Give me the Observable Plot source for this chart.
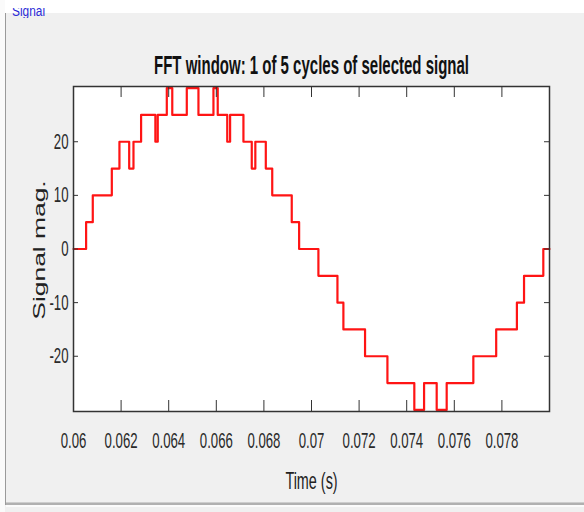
<!DOCTYPE html>
<html><head><meta charset="utf-8">
<script src="https://cdn.jsdelivr.net/npm/d3@7"></script>
<script src="https://cdn.jsdelivr.net/npm/@observablehq/plot@0.6"></script>
<style>
html,body{margin:0;padding:0;}
body{width:584px;height:512px;background:#f0f0f0;position:relative;overflow:hidden;font-family:"Liberation Sans",Arial,sans-serif;}
#topstrip{position:absolute;left:0;top:0;width:584px;height:13px;background:#fff;}
#leftstrip{position:absolute;left:0;top:0;width:5px;height:512px;background:#fafafa;}
#leftline{position:absolute;left:5px;top:13px;width:1px;height:492px;background:#9a9a9a;}
#botline{position:absolute;left:6px;top:502px;width:578px;height:2px;background:#b0b0b0;border-top:1px solid #cdcdcd;}
#botlight{position:absolute;left:6px;top:505px;width:578px;height:2px;background:#fbfbfb;}
#sig{position:absolute;left:12px;top:8px;height:10px;width:60px;overflow:hidden;}
#sig span{display:block;margin-top:-5px;color:#2b2bd6;font-size:14px;line-height:16px;transform:scaleX(0.85);transform-origin:left;}
#chart{position:absolute;left:0;top:0;}
#ylab{position:absolute;left:40px;top:250px;font-size:16px;line-height:16px;color:#222;white-space:nowrap;
      transform:translate(-50%,-50%) rotate(-90deg) scaleX(1.65);}
</style>
</head><body>
<div id="topstrip"></div><div id="leftstrip"></div><div id="leftline"></div>
<div id="botline"></div><div id="botlight"></div>
<div id="chart"></div>
<div id="sig"><span>Signal</span></div>
<div id="ylab"></div>
<script>
// Step waveform: segment start times (s) and levels
const times  = [0.0600, 0.06053, 0.06081, 0.06161, 0.06193, 0.06234, 0.06252, 0.06284, 0.06344, 0.06354,
                0.06392, 0.06415, 0.06476, 0.06525, 0.06588, 0.06606, 0.06646, 0.06658, 0.06714, 0.06749,
                0.06764, 0.06808, 0.06835, 0.06917, 0.06948, 0.07029, 0.07109, 0.07134, 0.07225, 0.07319,
                0.07432, 0.07473, 0.07526, 0.07568, 0.07680, 0.07776, 0.07863, 0.07893, 0.07974, 0.0800];
const levels = [0, 5, 10, 15, 20, 15, 20, 25, 20, 25,
                30, 25, 30, 25, 30, 25, 20, 25, 20, 15,
                20, 15, 10, 5, 0, -5, -10, -15, -20, -25,
                -30, -25, -30, -25, -20, -15, -10, -5, 0, 0];
const xTicks = [0.06, 0.062, 0.064, 0.066, 0.068, 0.07, 0.072, 0.074, 0.076, 0.078];
const yTicks = [-20, -10, 0, 10, 20];
const xDomain = [0.06, 0.08];
const yDomain = [-30.3, 30.3];
const titleText = "FFT window: 1 of 5 cycles of selected signal";
const xLabel = "Time (s)";
const yLabel = "Signal mag.";

const data = times.map((t, i) => ({t, v: levels[i]}));
const W = 584, H = 512, mL = 73, mR = 35, mT = 86, mB = 101;
const ih = H - mT - mB, iw = W - mL - mR;
const ink = "#333333";

document.getElementById("ylab").textContent = yLabel;

const plot = Plot.plot({
  width: W, height: H,
  marginLeft: mL, marginRight: mR, marginTop: mT, marginBottom: mB,
  style: {background: "transparent", fontFamily: '"Liberation Sans", Arial, sans-serif'},
  x: {domain: xDomain, label: null},
  y: {domain: yDomain, label: null},
  marks: [
    Plot.frame({fill: "white", stroke: null}),
    Plot.line(data, {x: "t", y: "v", curve: "step-after", stroke: "#ff1414", strokeWidth: 2.2}),
    Plot.tickX(xTicks, {x: d => d, insetTop: ih - 11, stroke: ink, strokeWidth: 1}),
    Plot.tickX(xTicks, {x: d => d, insetBottom: ih - 11, stroke: ink, strokeWidth: 1}),
    Plot.tickY(yTicks, {y: d => d, insetRight: iw - 5, stroke: ink, strokeWidth: 1}),
    Plot.tickY(yTicks, {y: d => d, insetLeft: iw - 5, stroke: ink, strokeWidth: 1}),
    Plot.frame({stroke: ink, strokeWidth: 1.5}),
    Plot.axisX({ticks: xTicks, tickSize: 0, tickPadding: 21, fontSize: 22, fill: "#2a2a2a",
                tickFormat: d => String(+d.toFixed(3)), label: null}),
    Plot.axisY({ticks: yTicks, tickSize: 0, tickPadding: 5, fontSize: 22, fill: "#2a2a2a",
                tickFormat: d => String(d), label: null}),
    Plot.text([titleText], {text: d => d, frameAnchor: "top", dy: -21, fontSize: 25, fontWeight: "bold",
                lineAnchor: "middle", fill: "#111", ariaLabel: "title"}),
    Plot.text([xLabel], {text: d => d, frameAnchor: "bottom", dy: 70, fontSize: 24,
                lineAnchor: "middle", fill: "#222", ariaLabel: "xlabel"})
  ]
});
document.getElementById("chart").appendChild(plot);

const svg = plot.tagName.toLowerCase() === "svg" ? plot : plot.querySelector("svg");
function fitLen(sel, len) {
  svg.querySelectorAll(sel).forEach(el => {
    el.setAttribute("textLength", len);
    el.setAttribute("lengthAdjust", "spacingAndGlyphs");
  });
}
fitLen('g[aria-label="title"] text', 292);
fitLen('g[aria-label="xlabel"] text', 50);

function stretch(el, s) {
  const r = el.getBoundingClientRect(), sr = svg.getBoundingClientRect();
  const anchor = getComputedStyle(el).textAnchor;
  let ax = anchor === "middle" ? r.left + r.width / 2 : anchor === "end" ? r.right : r.left;
  ax -= sr.left;
  const m = el.parentNode.getCTM();
  const axl = (ax - m.e) / m.a;
  const t = el.getAttribute("transform") || "";
  el.setAttribute("transform", `translate(${axl},0) scale(${s},1) translate(${-axl},0) ${t}`);
}
const custom = new Set(["title", "xlabel"]);
svg.querySelectorAll("text").forEach(el => {
  const g = el.closest("g[aria-label]");
  if (g && custom.has(g.getAttribute("aria-label"))) return;
  stretch(el, 0.6);
});
</script>
</body></html>
